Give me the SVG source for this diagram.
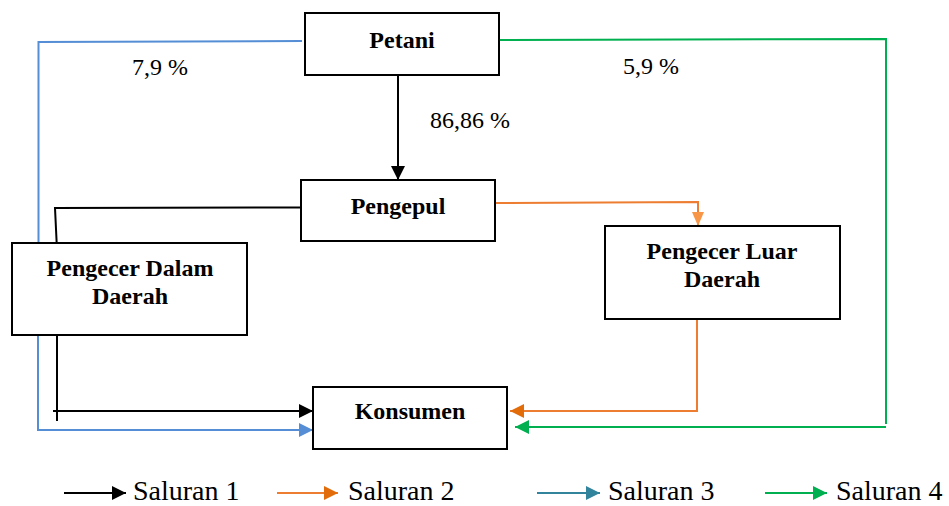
<svg xmlns="http://www.w3.org/2000/svg" width="949" height="506" viewBox="0 0 949 506">
<style>
.box{fill:#fff;stroke:#000;stroke-width:2}
text{font-family:'Liberation Serif',Tinos,'Times New Roman',Times,'DejaVu Serif',serif;fill:#000}
.nt{font-weight:bold;font-size:24px;text-anchor:middle}
.lb{font-size:24px}
.lg{font-size:28px}
.c{fill:none;stroke-width:2}
.k{stroke:#000}.o{stroke:#ED7D31}.b{stroke:#558ED5}.g{stroke:#00B050}.t{stroke:#31849B}
</style>
<defs>
<marker id="ak" markerUnits="userSpaceOnUse" markerWidth="16" markerHeight="16" refX="14" refY="7" orient="auto"><path d="M0,0 L14,7 L0,14 Z" fill="#000"/></marker>
<marker id="ao" markerUnits="userSpaceOnUse" markerWidth="16" markerHeight="16" refX="14" refY="7" orient="auto"><path d="M0,0 L14,7 L0,14 Z" fill="#E36C0A"/></marker>
<marker id="ao2" markerUnits="userSpaceOnUse" markerWidth="16" markerHeight="16" refX="14" refY="6" orient="auto"><path d="M0,0 L14,6 L0,12 Z" fill="#F79646"/></marker>
<marker id="ab" markerUnits="userSpaceOnUse" markerWidth="16" markerHeight="16" refX="14" refY="7" orient="auto"><path d="M0,0 L14,7 L0,14 Z" fill="#558ED5"/></marker>
<marker id="ag" markerUnits="userSpaceOnUse" markerWidth="16" markerHeight="16" refX="14" refY="7" orient="auto"><path d="M0,0 L14,7 L0,14 Z" fill="#00B050"/></marker>
<marker id="at" markerUnits="userSpaceOnUse" markerWidth="16" markerHeight="16" refX="14" refY="7" orient="auto"><path d="M0,0 L14,7 L0,14 Z" fill="#31849B"/></marker>
</defs>
<g id="connectors">
<path class="c b" d="M302,41 L38.5,42 L38.5,256"/>
<path class="c b" d="M38,334 L38,430 L313,430" marker-end="url(#ab)"/>
<path class="c k" d="M398,75 L398,180" marker-end="url(#ak)"/>
<path class="c k" d="M301,207.5 L55,208 L57,250"/>
<path class="c k" d="M57,329 L57,421"/>
<path class="c k" d="M53,411 L313,411" marker-end="url(#ak)"/>
<path class="c o" d="M495,203 L698,202 L698,226" marker-end="url(#ao2)"/>
<path class="c o" d="M697,320 L697,411 L510,411" marker-end="url(#ao)"/>
<path class="c g" d="M499,40 L886,39 L886,424"/>
<path class="c g" d="M886,427 L515,427" marker-end="url(#ag)"/>
</g>
<g id="petani"><rect class="box" x="305" y="13" width="194" height="62"/><text class="nt" x="402" y="48">Petani</text></g>
<g id="pengepul"><rect class="box" x="301" y="180" width="194" height="61"/><text class="nt" x="398" y="214">Pengepul</text></g>
<g id="pengecer-dalam"><rect class="box" x="12" y="243" width="235" height="92"/><text class="nt" x="130" y="276">Pengecer Dalam</text><text class="nt" x="130" y="304">Daerah</text></g>
<g id="pengecer-luar"><rect class="box" x="605" y="226" width="235" height="93"/><text class="nt" x="722" y="259">Pengecer Luar</text><text class="nt" x="722" y="287">Daerah</text></g>
<g id="konsumen"><rect class="box" x="313" y="387" width="194" height="62"/><text class="nt" x="410" y="419">Konsumen</text></g>
<g id="labels">
<text class="lb" x="132" y="75">7,9 %</text>
<text class="lb" x="623" y="74">5,9 %</text>
<text class="lb" x="430" y="128">86,86 %</text>
</g>
<g id="legend">
<path class="c k" d="M64,493 L126,493" marker-end="url(#ak)"/>
<text class="lg" x="133" y="500">Saluran 1</text>
<path class="c o" d="M277,493 L338,493" marker-end="url(#ao)"/>
<text class="lg" x="348" y="500">Saluran 2</text>
<path class="c t" d="M537,493 L600,493" marker-end="url(#at)"/>
<text class="lg" x="608" y="500">Saluran 3</text>
<path class="c g" d="M765,493 L827,493" marker-end="url(#ag)"/>
<text class="lg" x="836" y="500">Saluran 4</text>
</g>
</svg>
